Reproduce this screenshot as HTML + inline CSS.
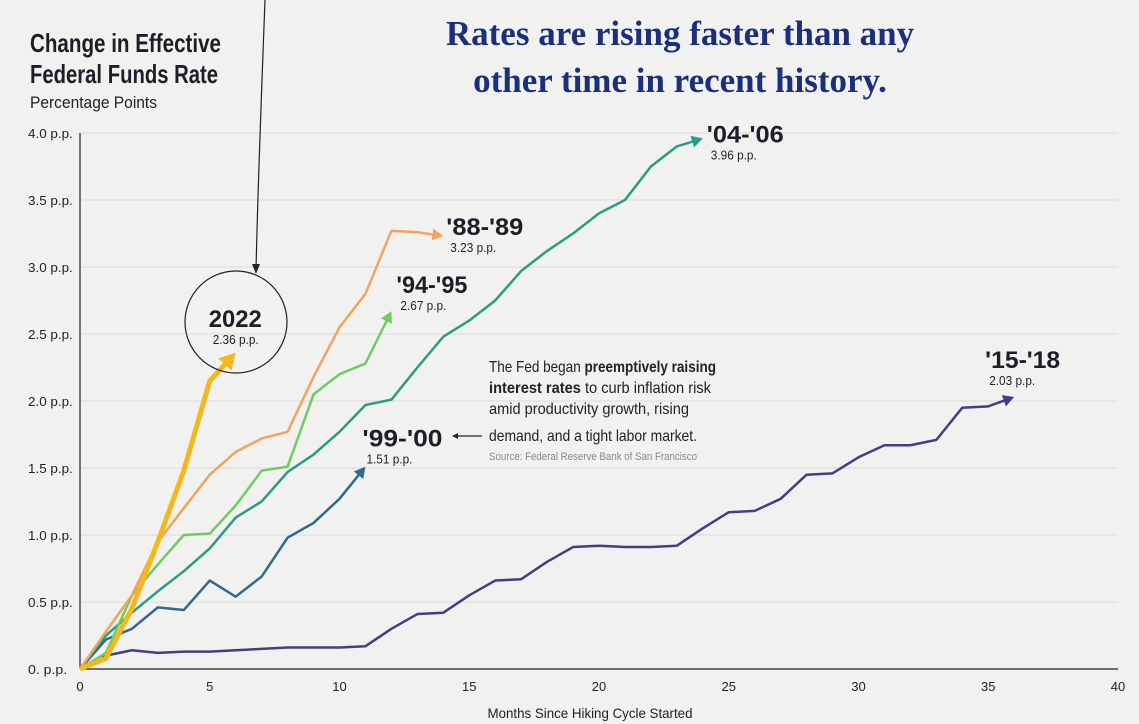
<!DOCTYPE html>
<html><head><meta charset="utf-8"><style>
body{margin:0;width:1139px;height:724px;background:#f1f1ef;overflow:hidden;font-family:"Liberation Sans",sans-serif;}
svg{position:absolute;left:0;top:0}
</style></head><body>
<svg id="chart" width="1139" height="724">
<text x="30" y="52" font-size="26" font-weight="bold" fill="#1e1e28" textLength="191" lengthAdjust="spacingAndGlyphs">Change in Effective</text>
<text x="30" y="83" font-size="26" font-weight="bold" fill="#1e1e28" textLength="188" lengthAdjust="spacingAndGlyphs">Federal Funds Rate</text>
<text x="30" y="108" font-size="17" fill="#222" textLength="127" lengthAdjust="spacingAndGlyphs">Percentage Points</text>
<text x="680" y="45" font-size="35" font-weight="bold" fill="#1b2f7d" text-anchor="middle" font-family="Liberation Serif, serif">Rates are rising faster than any</text>
<text x="680" y="92" font-size="35" font-weight="bold" fill="#1b2f7d" text-anchor="middle" font-family="Liberation Serif, serif">other time in recent history.</text>
<g id="grid"></g><g id="axes"></g><g id="series"></g>
<path d="M265 0 C262 80,258 180,256 270" fill="none" stroke="#222" stroke-width="1.2"/>
<path d="M252 264 L256 274 L260 264 Z" fill="#222"/>
<circle cx="236" cy="322" r="51" fill="none" stroke="#222" stroke-width="1.2"/>
<line x1="482" y1="436" x2="453" y2="436" stroke="#222" stroke-width="1.2"/>
<path d="M452 436 L458 433 L458 439 Z" fill="#222"/>
<g font-size="16" fill="#222">
<text x="489" y="372" textLength="227" lengthAdjust="spacingAndGlyphs">The Fed began <tspan font-weight="bold">preemptively raising</tspan></text>
<text x="489" y="393" textLength="222" lengthAdjust="spacingAndGlyphs"><tspan font-weight="bold">interest rates</tspan> to curb inflation risk</text>
<text x="489" y="414" textLength="200" lengthAdjust="spacingAndGlyphs">amid productivity growth, rising</text>
<text x="489" y="441" textLength="208" lengthAdjust="spacingAndGlyphs">demand, and a tight labor market.</text>
<text x="489" y="460" font-size="11" fill="#888" textLength="208" lengthAdjust="spacingAndGlyphs">Source: Federal Reserve Bank of San Francisco</text>
</g>
<text x="590" y="718" font-size="14" fill="#222" text-anchor="middle" textLength="205" lengthAdjust="spacingAndGlyphs">Months Since Hiking Cycle Started</text>
</svg>
<script>
const xTicks=[0,5,10,15,20,25,30,35,40];
const yTicks=[0,0.5,1.0,1.5,2.0,2.5,3.0,3.5,4.0];
const yTickLabels=["0. p.p.","0.5 p.p.","1.0 p.p.","1.5 p.p.","2.0 p.p.","2.5 p.p.","3.0 p.p.","3.5 p.p.","4.0 p.p."];
const s2022=[0,0.08,0.45,0.95,1.48,2.15,2.36];
const s8889=[0,0.28,0.55,0.95,1.2,1.45,1.62,1.72,1.77,2.18,2.55,2.8,3.27,3.26,3.23];
const s9495=[0,0.12,0.55,0.78,1.0,1.01,1.22,1.48,1.51,2.05,2.2,2.28,2.67];
const s0406=[0,0.25,0.42,0.58,0.73,0.9,1.13,1.25,1.47,1.6,1.77,1.97,2.01,2.25,2.48,2.6,2.75,2.97,3.12,3.25,3.4,3.5,3.75,3.9,3.96];
const s9900=[0,0.22,0.3,0.46,0.44,0.66,0.54,0.69,0.98,1.09,1.27,1.51];
const s1518=[0,0.1,0.14,0.12,0.13,0.13,0.14,0.15,0.16,0.16,0.16,0.17,0.3,0.41,0.42,0.55,0.66,0.67,0.8,0.91,0.92,0.91,0.91,0.92,1.05,1.17,1.18,1.27,1.45,1.46,1.58,1.67,1.67,1.71,1.95,1.96,2.03];
const seriesNames=["'15-'18","'99-'00","'04-'06","'94-'95","'88-'89","2022"];
const seriesLabels=["2.03 p.p.","1.51 p.p.","3.96 p.p.","2.67 p.p.","3.23 p.p.","2.36 p.p."];

const X=m=>80+m*25.95, Y=v=>669-v*134;
const NS="http://www.w3.org/2000/svg";
function mk(t,a,p){const e=document.createElementNS(NS,t);for(const k in a)e.setAttribute(k,a[k]);p.appendChild(e);return e;}
const grid=document.getElementById('grid'),axes=document.getElementById('axes'),ser=document.getElementById('series');
yTicks.forEach((v,i)=>{
 if(v>0){const l=mk('line',{x1:X(0),x2:X(40),y1:Y(v),y2:Y(v),stroke:'#dcdcda','stroke-width':1},grid);
 
 }
 const t=mk('text',{x:28,y:Y(v)+5,'font-size':13,fill:'#222',textLength:yTickLabels[i].length*5.6,lengthAdjust:'spacingAndGlyphs'},axes);t.textContent=yTickLabels[i];
 
 
});
const ax=mk('line',{x1:X(0),x2:X(0),y1:Y(4),y2:Y(0),stroke:'#222','stroke-width':1.2},axes);


const bx=mk('line',{x1:X(0),x2:X(40),y1:Y(0),y2:Y(0),stroke:'#222','stroke-width':1.2},axes);


xTicks.forEach(m=>{const t=mk('text',{x:X(m),y:691,'font-size':13,fill:'#222','text-anchor':'middle'},axes);t.textContent=m;
 
 });

const all=[s1518,s9900,s0406,s9495,s8889,s2022];
const colors=["#4b3a86","#2f6a8e","#2a9c86","#6fcb62","#f2a45e","#f5b81c"];
const widths=[2.5,2.5,2.5,2.5,2.5,5];
const ids=["15-18","99-00","04-06","94-95","88-89","2022"];
const lblOff=[[-29,-29],[-3,-20],[4,4],[5,-18],[3,-1],[-27,-26]];
const lblW=[75,80,77,71,77,53];
all.forEach((d,i)=>{
 const n=d.length;
 const pts=d.map((v,m)=>[X(m),Y(v)]);
 const [x1,y1]=pts[n-2],[x2,y2]=pts[n-1];
 const ang=Math.atan2(y2-y1,x2-x1),L=widths[i]>3?16:11,W=widths[i]>3?9:6;
 const bxp=x2-L*Math.cos(ang),byp=y2-L*Math.sin(ang);
 const linePts=pts.slice(0,n-1).concat([[bxp+2*Math.cos(ang),byp+2*Math.sin(ang)]]);
 const p=mk('polyline',{points:linePts.map(q=>q.join(',')).join(' '),fill:'none',stroke:colors[i],'stroke-width':widths[i],'stroke-linejoin':'round'},ser);
 
 
 const px=-Math.sin(ang)*W,py=Math.cos(ang)*W;
 const h=mk('polygon',{points:`${x2},${y2} ${bxp+px},${byp+py} ${bxp-px},${byp-py}`,fill:colors[i]},ser);
 
 
 const lx=x2+lblOff[i][0], ly=y2+lblOff[i][1];
 const t=mk('text',{x:lx,y:ly,'font-size':24,'font-weight':'bold',fill:'#1e1e28',textLength:lblW[i],lengthAdjust:'spacingAndGlyphs'},ser);t.textContent=seriesNames[i];
 
 
 const t2=mk('text',{x:lx+4,y:ly+17,'font-size':13,fill:'#222',textLength:46,lengthAdjust:'spacingAndGlyphs'},ser);t2.textContent=seriesLabels[i];
 
 
});
</script>
</body></html>
